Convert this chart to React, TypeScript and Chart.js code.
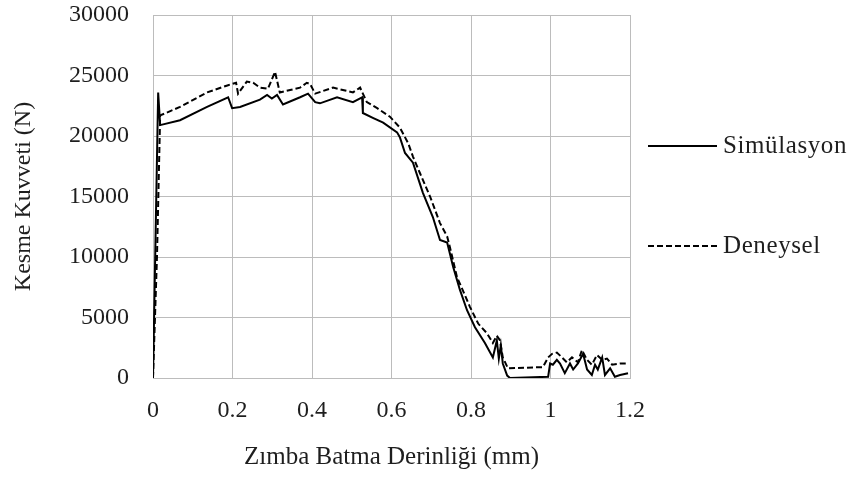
import { useEffect, useRef } from 'react';
import { Chart, registerables } from 'chart.js';

Chart.register(...registerables);

// Zımba batma derinliği (mm) / kesme kuvveti (N)
const simX = [0, 0.013, 0.018, 0.068, 0.136, 0.189, 0.199, 0.219, 0.269, 0.287, 0.299, 0.312, 0.327, 0.37, 0.39, 0.408, 0.42, 0.463, 0.503, 0.526, 0.528, 0.553, 0.579, 0.614, 0.621, 0.634, 0.654, 0.679, 0.704, 0.722, 0.74, 0.755, 0.772, 0.79, 0.81, 0.835, 0.855, 0.865, 0.87, 0.875, 0.88, 0.891, 0.898, 0.994, 0.999, 1.006, 1.016, 1.024, 1.036, 1.049, 1.057, 1.069, 1.082, 1.092, 1.104, 1.112, 1.119, 1.13, 1.137, 1.15, 1.162, 1.175, 1.195];
const simY = [0, 23600, 20900, 21300, 22400, 23200, 22300, 22400, 23000, 23400, 23100, 23400, 22600, 23200, 23500, 22800, 22700, 23200, 22800, 23200, 21900, 21500, 21100, 20300, 19900, 18600, 17800, 15300, 13300, 11400, 11200, 9200, 7300, 5600, 4200, 2900, 1700, 3100, 1600, 2700, 1200, 200, 0, 100, 1200, 1100, 1500, 1200, 400, 1200, 700, 1200, 2000, 700, 250, 1100, 700, 1700, 250, 800, 100, 250, 400];

const expX = [0, 0.01, 0.018, 0.068, 0.136, 0.189, 0.209, 0.214, 0.236, 0.252, 0.269, 0.289, 0.307, 0.319, 0.345, 0.37, 0.387, 0.395, 0.408, 0.453, 0.503, 0.521, 0.528, 0.538, 0.564, 0.596, 0.621, 0.642, 0.654, 0.672, 0.697, 0.722, 0.74, 0.747, 0.765, 0.772, 0.797, 0.818, 0.84, 0.855, 0.865, 0.873, 0.88, 0.893, 0.981, 0.994, 1.004, 1.016, 1.029, 1.041, 1.054, 1.069, 1.079, 1.092, 1.104, 1.117, 1.13, 1.142, 1.155, 1.175, 1.195];
const expY = [0, 10000, 21700, 22400, 23600, 24200, 24400, 23500, 24500, 24400, 24000, 23900, 25300, 23600, 23800, 24000, 24400, 24300, 23500, 24000, 23600, 24000, 23500, 22800, 22300, 21600, 20700, 19400, 18300, 16900, 15000, 12800, 11700, 10800, 8300, 7800, 5900, 4500, 3700, 2900, 3500, 3100, 1700, 800, 900, 1700, 2000, 2100, 1700, 1300, 1700, 1300, 2300, 1500, 1100, 1900, 1500, 1600, 1100, 1200, 1200];

const seriesNames = ['Simülasyon', 'Deneysel'];
const xTicks = [0, 0.2, 0.4, 0.6, 0.8, 1, 1.2];
const yTicks = [0, 5000, 10000, 15000, 20000, 25000, 30000];
const xTitle = 'Zımba Batma Derinliği (mm)';
const yTitle = 'Kesme Kuvveti (N)';

const FONT = "'Liberation Serif', 'Times New Roman', serif";
const GRID = '#bcbcbc';
const TEXT = '#1e1e1e';

const sideLegend = {
  id: 'sideLegend',
  afterDraw(chart: any) {
    const ctx = chart.ctx as CanvasRenderingContext2D;
    const rows = [146, 246];
    chart.data.datasets.forEach((ds: any, i: number) => {
      const y = rows[i];
      ctx.save();
      ctx.strokeStyle = '#000';
      ctx.lineWidth = 2;
      ctx.setLineDash(ds.borderDash || []);
      ctx.beginPath();
      ctx.moveTo(648, y);
      ctx.lineTo(717, y);
      ctx.stroke();
      ctx.setLineDash([]);
      ctx.fillStyle = TEXT;
      ctx.font = `25px ${FONT}`;
      (ctx as any).letterSpacing = '0.6px';
      ctx.textBaseline = 'middle';
      ctx.textAlign = 'left';
      ctx.fillText(ds.label, 723, y);
      ctx.restore();
    });
  },
};

export default function App() {
  const ref = useRef<HTMLCanvasElement | null>(null);

  useEffect(() => {
    if (!ref.current) return;
    const chart = new Chart(ref.current, {
      type: 'line',
      data: {
        datasets: [
          {
            label: seriesNames[0],
            data: simX.map((x, i) => ({ x, y: simY[i] })),
            borderColor: '#000',
            borderWidth: 2,
            pointRadius: 0,
            tension: 0,
            fill: false,
          },
          {
            label: seriesNames[1],
            data: expX.map((x, i) => ({ x, y: expY[i] })),
            borderColor: '#000',
            borderWidth: 2,
            borderDash: [6, 3],
            pointRadius: 0,
            tension: 0,
            fill: false,
          },
        ],
      },
      options: {
        responsive: false,
        animation: false,
        layout: { padding: { left: 0, top: 15, right: 222, bottom: 0 } },
        plugins: { legend: { display: false }, tooltip: { enabled: false } },
        scales: {
          x: {
            type: 'linear',
            min: 0,
            max: 1.2,
            afterBuildTicks: (s: any) => {
              s.ticks = xTicks.map((v) => ({ value: v }));
            },
            afterFit: (s: any) => {
              s.height = 101;
              s.paddingLeft = 0;
              s.paddingRight = 0;
            },
            grid: { color: GRID, lineWidth: 1, drawTicks: false },
            border: { color: GRID, width: 1 },
            ticks: {
              padding: 18,
              color: TEXT,
              font: { family: FONT, size: 24 },
              maxRotation: 0,
              callback: (v: any) => String(Math.round(Number(v) * 10) / 10),
            },
            title: {
              display: true,
              text: xTitle,
              color: TEXT,
              font: { family: FONT, size: 25 },
              padding: { top: 0, bottom: 7 },
            },
          },
          y: {
            type: 'linear',
            min: 0,
            max: 30000,
            afterBuildTicks: (s: any) => {
              s.ticks = yTicks.map((v) => ({ value: v }));
            },
            afterFit: (s: any) => {
              s.width = 153;
              s.paddingTop = 0;
              s.paddingBottom = 0;
            },
            grid: { color: GRID, lineWidth: 1, drawTicks: false },
            border: { color: GRID, width: 1 },
            ticks: {
              padding: 24,
              color: TEXT,
              font: { family: FONT, size: 24 },
              callback: (v: any) => String(v),
            },
            title: {
              display: true,
              text: yTitle,
              color: TEXT,
              font: { family: FONT, size: 24 },
              padding: { top: 9, bottom: 0 },
            },
          },
        },
      },
      plugins: [sideLegend],
    });
    return () => chart.destroy();
  }, []);

  return (
    <div style={{ position: 'fixed', left: 0, top: 0, width: 852, height: 479, background: '#fff' }}>
      <canvas ref={ref} width={852} height={479} style={{ display: 'block' }} />
    </div>
  );
}
